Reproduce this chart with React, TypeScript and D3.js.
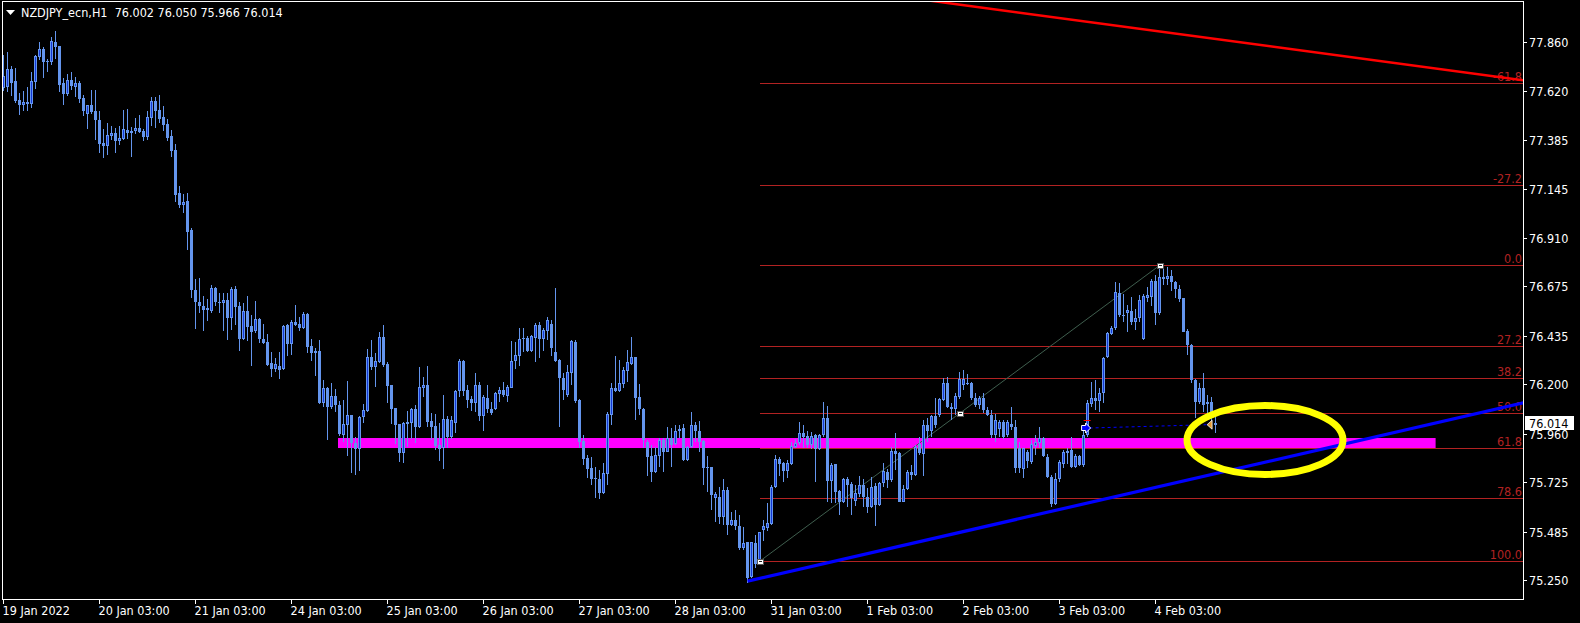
import React, { useEffect } from "react"
import * as d3 from "d3"

// one H1 candle: open, high, low, close
type Bar = [number, number, number, number]

const d19jan: Bar[] = [
  [77.634, 77.795, 77.623, 77.694], [77.639, 77.810, 77.618, 77.726], [77.728, 77.742, 77.597, 77.661], [77.669, 77.731, 77.564, 77.572],
  [77.577, 77.610, 77.505, 77.553], [77.555, 77.621, 77.526, 77.568], [77.560, 77.642, 77.526, 77.568], [77.560, 77.715, 77.537, 77.669],
  [77.666, 77.797, 77.631, 77.791], [77.787, 77.858, 77.771, 77.824], [77.824, 77.836, 77.686, 77.763], [77.765, 77.776, 77.711, 77.763],
  [77.763, 77.884, 77.747, 77.863], [77.857, 77.912, 77.776, 77.836], [77.839, 77.839, 77.618, 77.650], [77.658, 77.686, 77.553, 77.606],
  [77.606, 77.703, 77.597, 77.674], [77.674, 77.713, 77.626, 77.647], [77.642, 77.687, 77.593, 77.658], [77.661, 77.671, 77.561, 77.584],
  [77.587, 77.602, 77.501, 77.524], [77.511, 77.553, 77.437, 77.553], [77.553, 77.627, 77.511, 77.519], [77.524, 77.626, 77.383, 77.480],
]
const d20jan: Bar[] = [
  [77.480, 77.524, 77.322, 77.364], [77.369, 77.437, 77.298, 77.356], [77.356, 77.464, 77.311, 77.408], [77.404, 77.451, 77.383, 77.416],
  [77.417, 77.443, 77.322, 77.380], [77.380, 77.451, 77.359, 77.393], [77.390, 77.530, 77.383, 77.437], [77.432, 77.534, 77.388, 77.419],
  [77.427, 77.445, 77.303, 77.419], [77.425, 77.490, 77.414, 77.440], [77.440, 77.505, 77.416, 77.421], [77.427, 77.435, 77.380, 77.400],
  [77.400, 77.524, 77.383, 77.495], [77.492, 77.592, 77.451, 77.572], [77.572, 77.592, 77.443, 77.524], [77.529, 77.602, 77.467, 77.485],
  [77.495, 77.548, 77.429, 77.456], [77.461, 77.485, 77.380, 77.395], [77.403, 77.432, 77.303, 77.330], [77.335, 77.364, 77.085, 77.117],
  [77.127, 77.161, 77.052, 77.068], [77.068, 77.122, 77.031, 77.083], [77.088, 77.127, 76.850, 76.939], [76.947, 76.957, 76.617, 76.657],
]
const d21jan: Bar[] = [
  [76.657, 76.710, 76.468, 76.599], [76.599, 76.714, 76.544, 76.581], [76.580, 76.628, 76.460, 76.560], [76.570, 76.612, 76.508, 76.560],
  [76.557, 76.681, 76.544, 76.667], [76.667, 76.673, 76.581, 76.601], [76.599, 76.644, 76.544, 76.596], [76.596, 76.644, 76.460, 76.609],
  [76.609, 76.641, 76.415, 76.523], [76.523, 76.670, 76.463, 76.662], [76.662, 76.676, 76.487, 76.576], [76.580, 76.597, 76.363, 76.420],
  [76.420, 76.596, 76.415, 76.555], [76.555, 76.628, 76.412, 76.479], [76.483, 76.536, 76.289, 76.455], [76.460, 76.604, 76.447, 76.515],
  [76.517, 76.520, 76.399, 76.418], [76.420, 76.492, 76.395, 76.402], [76.407, 76.444, 76.289, 76.294], [76.302, 76.355, 76.237, 76.276],
  [76.276, 76.326, 76.260, 76.297], [76.289, 76.355, 76.224, 76.271], [76.273, 76.487, 76.269, 76.483], [76.486, 76.492, 76.339, 76.397],
]
const d24jan: Bar[] = [
  [76.397, 76.512, 76.341, 76.500], [76.504, 76.584, 76.483, 76.489], [76.492, 76.528, 76.458, 76.475], [76.471, 76.549, 76.466, 76.541],
  [76.541, 76.547, 76.350, 76.382], [76.386, 76.418, 76.315, 76.353], [76.350, 76.374, 76.242, 76.361], [76.361, 76.415, 76.105, 76.108],
  [76.108, 76.221, 76.092, 76.181], [76.181, 76.185, 75.930, 76.092], [76.092, 76.205, 76.079, 76.143], [76.143, 76.176, 76.067, 76.100],
  [76.100, 76.121, 75.950, 75.959], [75.956, 76.124, 75.919, 76.006], [76.004, 76.216, 75.854, 76.051], [76.051, 76.051, 75.770, 75.917],
  [75.917, 75.943, 75.760, 75.885], [75.885, 76.048, 75.780, 76.042], [76.040, 76.105, 76.011, 76.076], [76.072, 76.371, 76.067, 76.331],
  [76.331, 76.415, 76.269, 76.286], [76.286, 76.353, 76.185, 76.313], [76.310, 76.452, 76.305, 76.428], [76.428, 76.487, 76.286, 76.294],
]
const d25jan: Bar[] = [
  [76.298, 76.307, 76.108, 76.192], [76.197, 76.197, 76.008, 76.082], [76.085, 76.085, 75.909, 76.003], [76.008, 76.008, 75.822, 75.869],
  [75.866, 76.019, 75.820, 76.011], [76.009, 76.072, 75.898, 76.017], [76.014, 76.084, 75.935, 76.079], [76.079, 76.100, 75.914, 75.995],
  [75.995, 76.282, 75.987, 76.185], [76.184, 76.237, 76.140, 76.195], [76.195, 76.289, 75.995, 76.019], [76.022, 76.059, 75.930, 75.995],
  [75.999, 76.056, 75.882, 75.903], [75.906, 76.014, 75.830, 75.887], [75.890, 76.148, 75.790, 76.030], [76.030, 76.046, 75.890, 75.946],
  [75.946, 76.046, 75.933, 76.027], [76.011, 76.173, 75.966, 76.168], [76.168, 76.321, 76.140, 76.313], [76.313, 76.318, 76.145, 76.169],
  [76.173, 76.197, 76.087, 76.124], [76.130, 76.143, 76.069, 76.111], [76.111, 76.253, 76.064, 76.196], [76.196, 76.209, 76.024, 76.048],
]
const d26jan: Bar[] = [
  [76.048, 76.148, 75.975, 76.137], [76.135, 76.196, 76.059, 76.080], [76.080, 76.112, 76.051, 76.062], [76.079, 76.161, 76.075, 76.158],
  [76.151, 76.187, 76.116, 76.171], [76.172, 76.209, 76.138, 76.148], [76.145, 76.196, 76.116, 76.185], [76.183, 76.410, 76.180, 76.313],
  [76.311, 76.406, 76.272, 76.340], [76.339, 76.474, 76.290, 76.419], [76.418, 76.471, 76.358, 76.426], [76.426, 76.434, 76.358, 76.363],
  [76.363, 76.439, 76.358, 76.432], [76.423, 76.495, 76.309, 76.487], [76.487, 76.503, 76.326, 76.418], [76.418, 76.474, 76.363, 76.461],
  [76.460, 76.524, 76.414, 76.511], [76.492, 76.510, 76.339, 76.377], [76.358, 76.668, 76.309, 76.314], [76.318, 76.322, 75.991, 76.229],
  [76.232, 76.253, 76.124, 76.172], [76.148, 76.293, 76.140, 76.258], [76.253, 76.414, 76.196, 76.410], [76.406, 76.414, 76.108, 76.121],
]
const d27jan: Bar[] = [
  [76.124, 76.127, 75.890, 75.922], [75.927, 75.954, 75.809, 75.836], [75.844, 75.857, 75.744, 75.791], [75.796, 75.849, 75.712, 75.741],
  [75.747, 75.801, 75.647, 75.739], [75.743, 75.785, 75.642, 75.675], [75.675, 75.817, 75.668, 75.768], [75.764, 76.067, 75.712, 76.056],
  [76.051, 76.204, 76.003, 76.180], [76.180, 76.339, 76.164, 76.167], [76.167, 76.318, 76.164, 76.204], [76.201, 76.285, 76.180, 76.269],
  [76.266, 76.366, 76.213, 76.306], [76.298, 76.431, 76.293, 76.332], [76.332, 76.334, 76.027, 76.135], [76.138, 76.201, 76.051, 76.079],
  [76.080, 76.083, 75.890, 75.928], [75.922, 75.930, 75.757, 75.849], [75.854, 75.906, 75.725, 75.773], [75.773, 75.898, 75.768, 75.856],
  [75.854, 75.938, 75.801, 75.928], [75.930, 75.938, 75.776, 75.873], [75.873, 75.995, 75.870, 75.938], [75.941, 75.990, 75.801, 75.906],
]
const d28jan: Bar[] = [
  [75.909, 76.003, 75.906, 75.975], [75.975, 76.003, 75.938, 75.983], [75.986, 76.006, 75.828, 75.833], [75.833, 75.902, 75.830, 75.898],
  [75.896, 76.067, 75.890, 76.003], [76.003, 76.019, 75.922, 75.973], [75.975, 76.022, 75.873, 75.919], [75.925, 75.930, 75.712, 75.796],
  [75.801, 75.854, 75.680, 75.796], [75.801, 75.801, 75.591, 75.663], [75.650, 75.680, 75.531, 75.670], [75.655, 75.704, 75.521, 75.558],
  [75.558, 75.741, 75.518, 75.688], [75.688, 75.704, 75.470, 75.518], [75.518, 75.583, 75.515, 75.542], [75.541, 75.591, 75.494, 75.512],
  [75.515, 75.566, 75.397, 75.405], [75.405, 75.510, 75.397, 75.431], [75.434, 75.437, 75.235, 75.263], [75.268, 75.437, 75.260, 75.434],
  [75.432, 75.470, 75.308, 75.330], [75.350, 75.486, 75.342, 75.482], [75.495, 75.542, 75.440, 75.515], [75.504, 75.623, 75.490, 75.529],
]
const d31jan: Bar[] = [
  [75.523, 75.712, 75.518, 75.704], [75.700, 75.857, 75.696, 75.838], [75.838, 75.846, 75.755, 75.814], [75.817, 75.825, 75.726, 75.780],
  [75.780, 75.833, 75.744, 75.817], [75.814, 75.922, 75.809, 75.901], [75.894, 75.935, 75.889, 75.917], [75.914, 76.019, 75.906, 75.962],
  [75.962, 76.003, 75.889, 75.946], [75.949, 75.975, 75.889, 75.904], [75.904, 75.970, 75.885, 75.949], [75.954, 75.959, 75.728, 75.886],
  [75.886, 75.959, 75.881, 75.954], [75.954, 76.116, 75.946, 76.035], [76.035, 76.095, 75.631, 75.733], [75.733, 75.817, 75.623, 75.809],
  [75.812, 75.814, 75.623, 75.679], [75.683, 75.688, 75.566, 75.631], [75.631, 75.744, 75.623, 75.741], [75.741, 75.752, 75.607, 75.712],
  [75.717, 75.728, 75.566, 75.647], [75.636, 75.712, 75.610, 75.671], [75.668, 75.755, 75.655, 75.710], [75.710, 75.739, 75.604, 75.652],
]
const d1feb: Bar[] = [
  [75.655, 75.696, 75.574, 75.604], [75.604, 75.749, 75.599, 75.704], [75.707, 75.720, 75.515, 75.615], [75.615, 75.726, 75.610, 75.723],
  [75.720, 75.817, 75.704, 75.781], [75.776, 75.788, 75.696, 75.736], [75.736, 75.898, 75.728, 75.878], [75.878, 75.962, 75.784, 75.862],
  [75.865, 75.873, 75.629, 75.631], [75.631, 75.712, 75.629, 75.694], [75.691, 75.784, 75.688, 75.775], [75.775, 75.809, 75.736, 75.760],
  [75.760, 75.906, 75.755, 75.898], [75.910, 75.946, 75.857, 75.865], [75.862, 76.027, 75.755, 76.002], [76.002, 76.035, 75.922, 75.975],
  [75.975, 76.051, 75.946, 76.048], [76.048, 76.132, 75.986, 76.002], [76.051, 76.132, 76.043, 76.127], [76.124, 76.229, 76.119, 76.204],
  [76.204, 76.237, 76.083, 76.091], [76.088, 76.107, 76.027, 76.078], [76.078, 76.156, 76.051, 76.143], [76.140, 76.260, 76.130, 76.224],
]
const d2feb: Bar[] = [
  [76.196, 76.270, 76.172, 76.224], [76.204, 76.250, 76.196, 76.201], [76.204, 76.212, 76.124, 76.132], [76.132, 76.159, 76.088, 76.099],
  [76.099, 76.143, 76.078, 76.132], [76.132, 76.156, 76.059, 76.075], [76.075, 76.091, 76.046, 76.051], [76.051, 76.075, 75.938, 75.954],
  [75.954, 76.054, 75.921, 76.026], [75.983, 76.026, 75.946, 76.018], [76.018, 76.026, 75.934, 75.946], [75.954, 76.026, 75.946, 76.015],
  [76.005, 76.091, 75.978, 75.994], [75.994, 76.026, 75.768, 75.792], [75.889, 75.921, 75.768, 75.792], [75.789, 75.892, 75.744, 75.889],
  [75.873, 75.881, 75.792, 75.828], [75.825, 75.930, 75.816, 75.909], [75.902, 75.954, 75.857, 75.918], [75.913, 75.994, 75.892, 75.941],
  [75.941, 75.946, 75.849, 75.854], [75.849, 75.860, 75.747, 75.752], [75.752, 75.760, 75.606, 75.618], [75.618, 75.768, 75.615, 75.739],
]
const d3feb: Bar[] = [
  [75.741, 75.833, 75.728, 75.821], [75.816, 75.881, 75.792, 75.870], [75.876, 75.889, 75.816, 75.868], [75.881, 75.946, 75.792, 75.800],
  [75.799, 75.860, 75.792, 75.852], [75.852, 75.857, 75.805, 75.808], [75.808, 75.999, 75.800, 75.954], [75.954, 76.123, 75.946, 76.107],
  [76.104, 76.212, 76.091, 76.131], [76.131, 76.220, 76.075, 76.120], [76.120, 76.180, 76.064, 76.156], [76.156, 76.333, 76.107, 76.329],
  [76.330, 76.451, 76.325, 76.446], [76.443, 76.484, 76.438, 76.474], [76.471, 76.697, 76.463, 76.645], [76.640, 76.689, 76.527, 76.535],
  [76.535, 76.635, 76.503, 76.532], [76.543, 76.584, 76.455, 76.559], [76.555, 76.624, 76.487, 76.503], [76.503, 76.564, 76.463, 76.522],
  [76.519, 76.632, 76.503, 76.608], [76.419, 76.635, 76.414, 76.629], [76.616, 76.673, 76.600, 76.632], [76.624, 76.710, 76.580, 76.700],
]
const d4feb: Bar[] = [
  [76.700, 76.729, 76.487, 76.543], [76.543, 76.776, 76.535, 76.721], [76.721, 76.774, 76.681, 76.710], [76.710, 76.769, 76.681, 76.726],
  [76.726, 76.753, 76.652, 76.697], [76.697, 76.700, 76.616, 76.661], [76.661, 76.681, 76.600, 76.613], [76.616, 76.619, 76.451, 76.455],
  [76.458, 76.467, 76.341, 76.390], [76.390, 76.393, 76.204, 76.220], [76.220, 76.225, 76.035, 76.115], [76.115, 76.204, 76.102, 76.183],
  [76.183, 76.253, 76.067, 76.099], [76.102, 76.148, 76.059, 76.115], [76.115, 76.140, 75.986, 76.035], [76.002, 76.050, 75.966, 76.014],
]

const candles: Bar[] = [
  ...d19jan, ...d20jan, ...d21jan, ...d24jan, ...d25jan, ...d26jan, ...d27jan,
  ...d28jan, ...d31jan, ...d1feb, ...d2feb, ...d3feb, ...d4feb,
]

const symbol = "NZDJPY_ecn,H1"

const priceTicks = [77.86, 77.62, 77.385, 77.145, 76.91, 76.675, 76.435, 76.2, 75.96, 75.725, 75.485, 75.25]
const dateLabels = [
  "19 Jan 2022", "20 Jan 03:00", "21 Jan 03:00", "24 Jan 03:00", "25 Jan 03:00", "26 Jan 03:00", "27 Jan 03:00",
  "28 Jan 03:00", "31 Jan 03:00", "1 Feb 03:00", "2 Feb 03:00", "3 Feb 03:00", "4 Feb 03:00",
]
const dateLabelBars = [0, 24, 48, 72, 96, 120, 144, 168, 192, 216, 240, 264, 288]

// fibonacci retracement, drawn from the 28 Jan low to the 4 Feb high
const fibLevels = [-61.8, -27.2, 0, 27.2, 38.2, 50, 61.8, 78.6, 100]
const fibLow = { bar: 189, price: 75.342 }
const fibHigh = { bar: 289, price: 76.776 }

// hand drawn objects
const redTrend = [{ bar: 230, price: 78.063 }, { bar: 380, price: 77.673 }]
const blueTrend = [{ bar: 186, price: 75.246 }, { bar: 380, price: 76.11 }]
const zone = { fromBar: 83.6, toBar: 358, top: 75.9395, bottom: 75.891 }
const ring = { bar: 315.35, price: 75.93, barRadius: 19.5, priceRadius: 0.167 }
const trade = { openBar: 270, openPrice: 75.988, closeBar: 301, closePrice: 76.004, stopPrice: 76.025 }

const W = 1580
const H = 623
const plot = { left: 2, right: 1523, top: 1, bottom: 599 }

const WICK = "#6495ed"
const BULL = "#1438d8"
const FIB = "#b22222"
const FONT = "'DejaVu Sans Condensed', 'DejaVu Sans', sans-serif"
const FS = 12.5

const x = d3.scaleLinear().domain([0, 303]).range([3.6, 1215.6])
const y = d3.scaleLinear().domain([75.25, 77.86]).range([580.3, 41.7])

const App: React.FC = () => {
  useEffect(() => {
    document.body.style.margin = "0"
    document.body.style.background = "#000"
  }, [])

  const last = candles[candles.length - 1]
  const header = `${symbol}  ${last.map(v => v.toFixed(3)).join(" ")}`
  const lastY = y(last[3])

  const fibRange = fibHigh.price - fibLow.price
  const fibX0 = Math.round(x(fibLow.bar))

  const line = d3.line<{ bar: number; price: number }>().x(d => x(d.bar)).y(d => y(d.price))

  const handles = [
    [x(fibLow.bar), y(fibLow.price)],
    [(x(fibLow.bar) + x(fibHigh.bar)) / 2, (y(fibLow.price) + y(fibHigh.price)) / 2],
    [x(fibHigh.bar), y(fibHigh.price)],
  ]

  const ax = x(trade.openBar) + 1
  const ay = y(trade.openPrice)
  const tx = x(trade.closeBar)
  const ty = y(trade.closePrice)

  return (
    <svg width={W} height={H} style={{ position: "absolute", left: 0, top: 0, display: "block" }} fontFamily={FONT}>
      <defs>
        <clipPath id="plotClip">
          <rect x={plot.left + 1} y={plot.top + 1} width={plot.right - plot.left - 1} height={plot.bottom - plot.top - 1} />
        </clipPath>
      </defs>
      <rect width={W} height={H} fill="#000" />

      <g clipPath="url(#plotClip)">
        {/* support zone */}
        <rect x={x(zone.fromBar)} y={y(zone.top)} width={x(zone.toBar) - x(zone.fromBar)}
          height={y(zone.bottom) - y(zone.top)} fill="#ff00ff" />

        {/* fibo levels */}
        {fibLevels.map(lv => {
          const ly = Math.round(y(fibHigh.price - (lv / 100) * fibRange)) + 0.5
          return <line key={lv} x1={fibX0} x2={plot.right} y1={ly} y2={ly} stroke={FIB} strokeWidth={1} />
        })}
        <line x1={x(fibLow.bar)} y1={y(fibLow.price)} x2={x(fibHigh.bar)} y2={y(fibHigh.price)}
          stroke="#3f5e4e" strokeWidth={1} />

        {/* candles */}
        <g shapeRendering="crispEdges">
          {candles.map(([o, h, l, c], i) => {
            const cx = Math.floor(x(i))
            const top = Math.round(y(Math.max(o, c)))
            const bh = Math.max(1, Math.round(y(Math.min(o, c))) - top)
            const hy = Math.round(y(h))
            const ly = Math.round(y(l))
            return (
              <g key={i}>
                <rect x={cx} y={hy} width={1} height={Math.max(1, ly - hy)} fill={WICK} />
                <rect x={cx - 1} y={top} width={3} height={bh} fill={WICK} />
                {c > o && bh > 2 && <rect x={cx} y={top + 1} width={1} height={bh - 2} fill={BULL} />}
              </g>
            )
          })}
        </g>

        {/* fibo labels */}
        {fibLevels.map(lv => {
          const ly = Math.round(y(fibHigh.price - (lv / 100) * fibRange))
          return (
            <text key={lv} x={plot.right - 1} y={ly - 2} textAnchor="end" fontSize={FS} fill={FIB}>
              {lv.toFixed(1)}
            </text>
          )
        })}

        {handles.map(([hx, hy], i) => (
          <g key={i} shapeRendering="crispEdges">
            <rect x={Math.round(hx) - 3} y={Math.round(hy) - 2} width={6} height={5} fill="#fff" stroke="#555" strokeWidth={1} />
            <rect x={Math.round(hx) - 1} y={Math.round(hy)} width={3} height={1} fill="#222" />
          </g>
        ))}

        {/* trade markers */}
        <line x1={ax + 5} y1={ay} x2={tx} y2={ty} stroke="#0000ff" strokeWidth={1} strokeDasharray="3,3" />
        <line x1={ax - 1} x2={ax + 6} y1={Math.round(y(trade.stopPrice)) + 0.5} y2={Math.round(y(trade.stopPrice)) + 0.5}
          stroke="#ff0000" strokeWidth={1} />
        <path d={`M${ax - 3},${ay - 2.5}h4v-2.5l5,5l-5,5v-2.5h-4z`} fill="#0000ff" stroke="#fff" strokeWidth={1} />
        <path d={`M${tx - 0.5},${ty}l5,-4.5v9z`} fill="#e0952e" stroke="#fff" strokeWidth={0.8} />

        {/* trend lines */}
        <path d={line(redTrend) ?? ""} stroke="#ff0000" strokeWidth={2.5} fill="none" />
        <path d={line(blueTrend) ?? ""} stroke="#0000ff" strokeWidth={3.2} fill="none" />

        <ellipse cx={x(ring.bar)} cy={y(ring.price)} rx={x(ring.bar + ring.barRadius) - x(ring.bar)}
          ry={y(ring.price - ring.priceRadius) - y(ring.price)} fill="none" stroke="#ffff00" strokeWidth={7} />
      </g>

      {/* frame */}
      <rect x={plot.left + 0.5} y={plot.top + 0.5} width={plot.right - plot.left} height={plot.bottom - plot.top}
        fill="none" stroke="#fff" strokeWidth={1} shapeRendering="crispEdges" />

      {/* price axis */}
      {priceTicks.map(p => {
        const ty2 = Math.round(y(p)) + 0.5
        return (
          <g key={p}>
            <line x1={plot.right} x2={plot.right + 4} y1={ty2} y2={ty2} stroke="#fff" shapeRendering="crispEdges" />
            <text x={plot.right + 6} y={ty2 + 4.5} fontSize={FS} fill="#fff">{p.toFixed(3)}</text>
          </g>
        )
      })}
      <rect x={plot.right + 2} y={Math.round(lastY) - 7} width={49} height={14} fill="#fff" />
      <text x={plot.right + 6} y={Math.round(lastY) + 4.5} fontSize={FS} fill="#000">{last[3].toFixed(3)}</text>

      {/* time axis */}
      {dateLabels.map((lab, i) => {
        const tx2 = Math.floor(x(dateLabelBars[i])) + 0.5
        return (
          <g key={lab}>
            <line x1={tx2} x2={tx2} y1={plot.bottom} y2={plot.bottom + 5} stroke="#fff" shapeRendering="crispEdges" />
            <text x={tx2 - 1} y={615} fontSize={FS} fill="#fff">{lab}</text>
          </g>
        )
      })}

      {/* header */}
      <path d="M6,10h9l-4.5,5z" fill="#fff" />
      <text x={21} y={16.5} fontSize={FS} fill="#fff" style={{ whiteSpace: "pre" }}>{header}</text>
    </svg>
  )
}

export default App
